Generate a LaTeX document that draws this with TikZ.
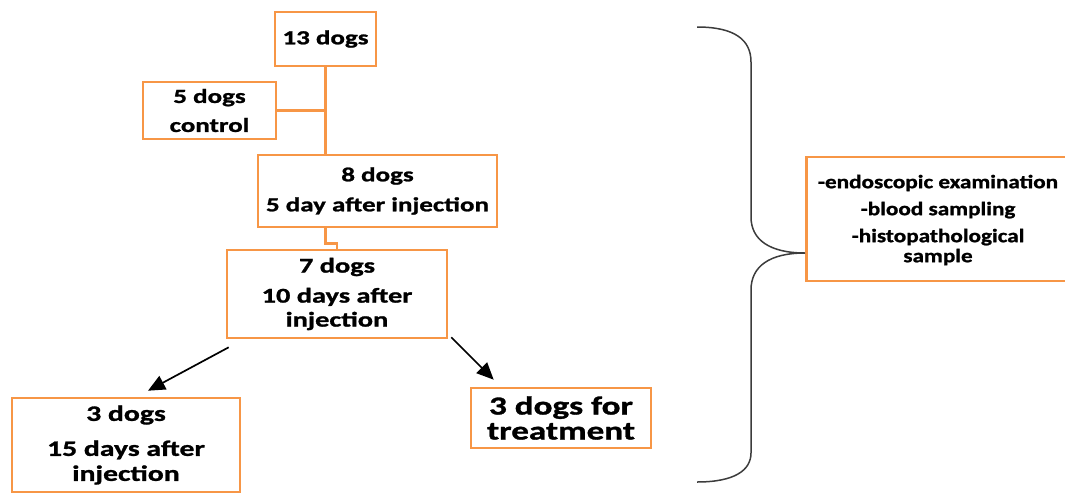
\documentclass[tikz,border=0pt]{standalone}
\usepackage{fontspec}
\usetikzlibrary{arrows.meta}
\newfontfamily\boxfont[FakeStretch=1.35,FakeBold=1.2]{Carlito}
\newfontfamily\sidefont[FakeStretch=1.22,FakeBold=1.2]{Carlito}
\definecolor{boxorange}{RGB}{247,150,70}
\definecolor{bracegray}{RGB}{60,60,60}
\begin{document}
\begin{tikzpicture}[x=1pt,y=-1pt,
  stepbox/.style={draw=boxorange,line width=2.6pt,inner sep=0pt,align=center,
    font=\boxfont\bfseries\fontsize{20}{24}\selectfont},
  link/.style={draw=boxorange,line width=2.6pt},
  arr/.style={draw=black,line width=1.7pt,-{Triangle[length=17pt,width=15pt]}},
  brace/.style={draw=bracegray,line width=1.5pt}]
\useasboundingbox (0,0) rectangle (1065,493);
\begin{scope}
\clip (0,0) rectangle (1065,493);
% boxes
\node[stepbox,minimum width=101pt,minimum height=54pt] (n13) at (325.5,39) {13 dogs};
\node[stepbox,minimum width=133pt,minimum height=57pt] (n5) at (209.5,110.5) {5 dogs\\[5pt]control};
\node[stepbox,minimum width=239pt,minimum height=72pt] (n8) at (377.5,191) {8 dogs\\[6pt]5 day after injection};
\node[stepbox,minimum width=220pt,minimum height=88pt,font=\boxfont\bfseries\fontsize{21}{24}\selectfont] (n7) at (337,294) {7 dogs\\[6pt]10 days after\\injection};
\node[stepbox,minimum width=228pt,minimum height=94pt,font=\boxfont\bfseries\fontsize{22}{25}\selectfont] (n15) at (126,445) {3 dogs\\[10pt]15 days after\\injection};
\node[stepbox,minimum width=180pt,minimum height=60pt,font=\boxfont\bfseries\fontsize{26}{25}\selectfont] (nt) at (561,418) {3 dogs for\\treatment};
\node[stepbox,minimum width=275pt,minimum height=124pt,anchor=west] (nr) at (805,219) {};
\node[align=center,inner sep=0pt,font=\sidefont\bfseries\fontsize{19}{20}\selectfont] (nrt) at (938,220) {-endoscopic examination\\[7pt]-blood sampling\\[7pt]-histopathological\\sample};
% orange connectors
\draw[link] (n13.south) -- (n13.south |- n8.north);
\draw[link] (n5.east) -- (n5.east -| n13.south);
\draw[link] (n8.south -| n13.south) -- ++(0,15) -| (n7.north);
% arrows
\draw[arr] ([shift={(3,8)}]n7.south west) -- ([shift={(22,-6)}]n15.north);
\draw[arr] ([shift={(3,-2)}]n7.south east) -- ([shift={(24,-7)}]nt.north west);
% brace
\coordinate (tip) at ([yshift=-34pt]nr.west);
\draw[brace] (697,27) .. controls (735,27) and (751,40) .. (751,62) -- (751,217)
  .. controls (751,240) and (770,253) .. (tip)
  .. controls (770,253) and (751,266) .. (751,290) -- (751,453)
  .. controls (751,470) and (735,482) .. (697,482);
\end{scope}
\end{tikzpicture}
\end{document}
